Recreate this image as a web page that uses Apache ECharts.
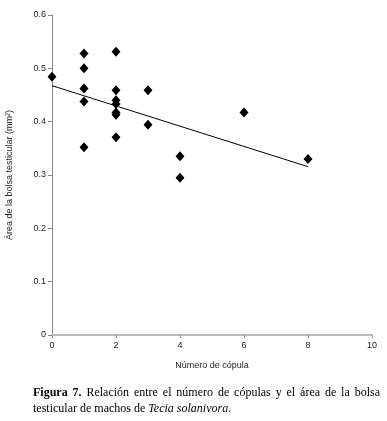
<!DOCTYPE html>
<html>
<head>
<meta charset="utf-8">
<script src="https://cdn.jsdelivr.net/npm/echarts@6/dist/echarts.min.js"></script>
<style>
html,body{margin:0;padding:0;background:#fff;}
#chart{position:absolute;left:0;top:0;width:387px;height:421px;}
#cap{position:absolute;left:33px;top:384px;width:347px;font-family:"Liberation Serif","DejaVu Serif",serif;font-size:12px;line-height:16px;text-align:justify;color:#000;}
</style>
</head>
<body>
<div id="chart"></div>
<div id="cap"><b>Figura 7.</b> Relación entre el número de cópulas y el área de la bolsa testicular de machos de <i>Tecia solanivora</i>.</div>
<script>
var copulas = [0, 1, 1, 1, 1, 1, 2, 2, 2, 2, 2, 2, 2, 3, 3, 4, 4, 6, 8];
var area = [0.484, 0.528, 0.500, 0.462, 0.438, 0.352, 0.531, 0.459, 0.440, 0.433, 0.417, 0.413, 0.371, 0.459, 0.394, 0.335, 0.295, 0.417, 0.330];
var trendX = [0, 8];
var trendY = [0.4675, 0.3156];
var xTicks = [0, 2, 4, 6, 8, 10];
var yTicks = [0, 0.1, 0.2, 0.3, 0.4, 0.5, 0.6];

var pts = copulas.map(function(x, i){ return [x, area[i]]; });
var trend = trendX.map(function(x, i){ return [x, trendY[i]]; });

var chart = echarts.init(document.getElementById('chart'), null, {renderer:'canvas'});
chart.setOption({
  animation:false,
  backgroundColor:'#fff',
  grid:{left:52, right:15, top:15, bottom:86, containLabel:false, outerBoundsMode:'none'},
  xAxis:{
    type:'value', min:xTicks[0], max:xTicks[xTicks.length-1], interval:2,
    name:'Número de cópula', nameLocation:'middle', nameGap:26,
    nameTextStyle:{fontFamily:'Liberation Sans, Arial', fontSize:9, color:'#222'},
    axisLine:{show:true, lineStyle:{color:'#bbb', width:2}},
    axisTick:{show:true, length:3, lineStyle:{color:'#999'}},
    axisLabel:{fontFamily:'Liberation Sans, Arial', fontSize:9, color:'#222', margin:6},
    splitLine:{show:false}
  },
  yAxis:{
    type:'value', min:yTicks[0], max:yTicks[yTicks.length-1], interval:0.1,
    name:'Área de la bolsa testicular (mm²)', nameLocation:'middle', nameGap:38,
    nameTextStyle:{fontFamily:'Liberation Sans, Arial', fontSize:9, color:'#222'},
    axisLine:{show:true, lineStyle:{color:'#888', width:1}},
    axisTick:{show:true, length:4, lineStyle:{color:'#888'}},
    axisLabel:{fontFamily:'Liberation Sans, Arial', fontSize:9, color:'#222', margin:6,
      formatter:function(v){ return v === 0 ? '0' : v.toFixed(1); }},
    splitLine:{show:false}
  },
  series:[
    {type:'line', data:trend, symbol:'none', lineStyle:{color:'#000', width:1}, silent:true, z:1},
    {type:'scatter', data:pts, symbol:'diamond', symbolSize:[9,10], itemStyle:{color:'#000', opacity:1}, z:2}
  ]
});
</script>
</body>
</html>
